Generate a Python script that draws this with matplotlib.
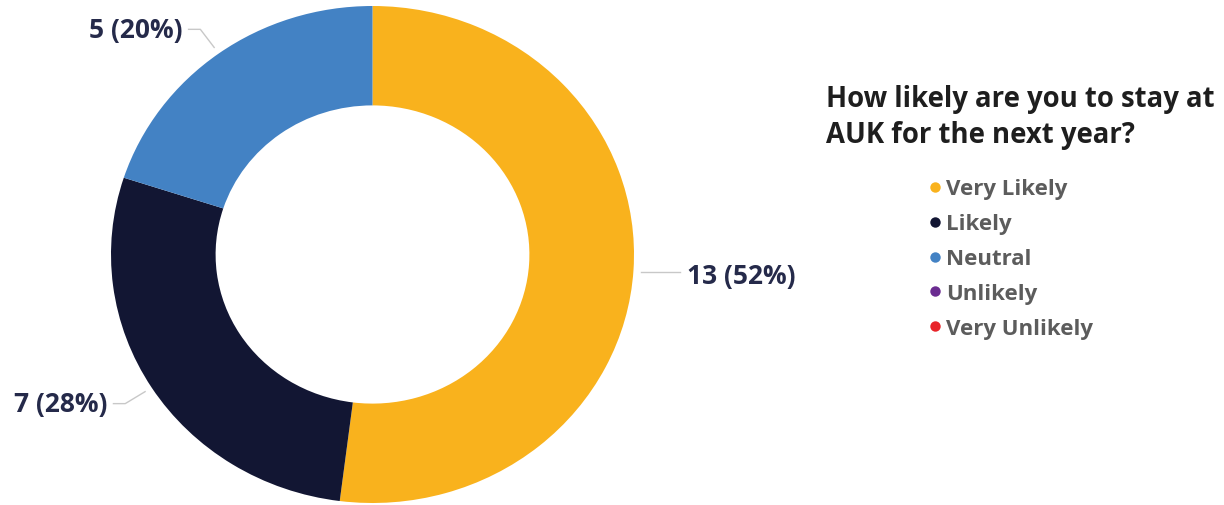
import matplotlib
matplotlib.use("Agg")
import matplotlib.pyplot as plt
from matplotlib.lines import Line2D
import numpy as np

# Survey responses
categories = ["Very Likely", "Likely", "Neutral", "Unlikely", "Very Unlikely"]
counts = [13, 7, 5, 0, 0]
colors = ["#F9B21D", "#121633", "#4382C4", "#6B2C91", "#E8242A"]
title = "How likely are you to stay at\nAUK for the next year?"

W, H = 1224, 506
fig = plt.figure(figsize=(W / 100, H / 100), dpi=100)
fig.patch.set_facecolor("white")

FONT = "Open Sans"

# Axes spans the whole canvas; donut centre and radii in pixels
cx, cy = 372.5, 255.5          # centre (pixels from left / top)
rx, ry = 261.5, 248.5          # outer radius per axis
ax = fig.add_axes([0, 0, 1, 1])
wedges, _ = ax.pie(counts, colors=colors, startangle=90, counterclock=False,
                   radius=1.0, center=(0, 0),
                   wedgeprops=dict(width=0.4, edgecolor="none", linewidth=0))
ax.set_aspect("auto")
ax.set_xlim(-cx / rx, (W - cx) / rx)
ax.set_ylim(-(H - cy) / ry, cy / ry)
ax.axis("off")

total = sum(counts)
# Value labels with elbow leader lines
for w, n in zip(wedges, counts):
    if n == 0:
        continue
    mid = np.deg2rad((w.theta1 + w.theta2) / 2)
    c, s = np.cos(mid), np.sin(mid)
    p0 = (1.03 * c, 1.03 * s)
    p1 = (1.12 * c, 1.12 * s)
    side = 1 if c >= 0 else -1
    hlen = 0.058 if side > 0 else 0.045
    p2 = (p1[0] + side * hlen, p1[1])
    if abs(s) < 0.15:
        p0 = (1.03 * c, p1[1])
    ax.plot([p0[0], p1[0], p2[0]], [p0[1], p1[1], p2[1]],
            color="#C8C8C8", lw=1.0, clip_on=False)
    ax.text(p2[0] + side * 0.025, p2[1] - (0.015 if side > 0 else 0.0),
            f"{n} ({n / total:.0%})", ha="left" if side > 0 else "right",
            va="center", fontsize=19, fontweight="bold", family=FONT,
            color="#252A4A")

# Title
fig.text(826 / W, 1 - 85 / H, title, ha="left", va="top", fontsize=19.8,
         fontweight="bold", family=FONT, color="#1E1E1E", linespacing=1.32)

# Legend
row0, step = 190, 34.8
mx, tx = 935, 946
for i, (lab, col) in enumerate(zip(categories, colors)):
    y = 1 - (row0 + i * step) / H
    fig.add_artist(Line2D([mx / W], [y + 2 / H], marker="o", markersize=7.5,
                          color=col, markeredgewidth=0, linestyle="none"))
    fig.text(tx / W, y, lab, ha="left", va="center", fontsize=16,
             fontweight="bold", family=FONT, color="#5C5C5C")

fig.savefig("out.png", dpi=100, facecolor="white")
